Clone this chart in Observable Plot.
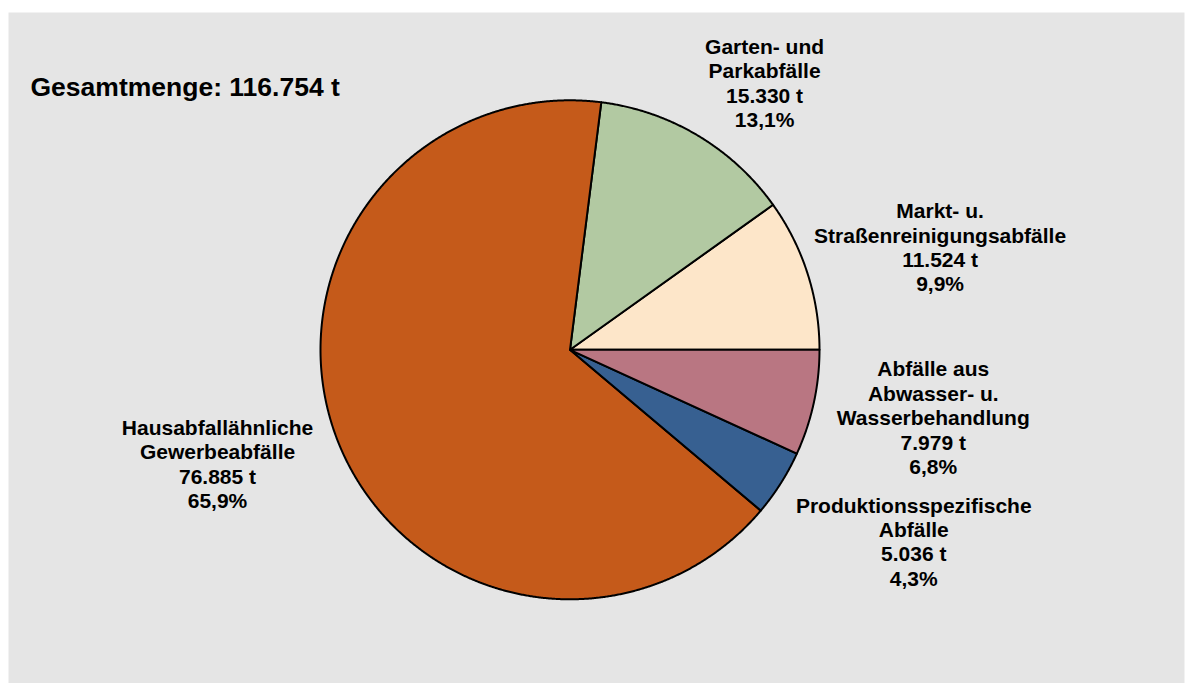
<!DOCTYPE html>
<html><head><meta charset="utf-8">
<script src="https://cdn.jsdelivr.net/npm/d3@7"></script>
<script src="https://cdn.jsdelivr.net/npm/@observablehq/plot@0.6"></script>
<style>body{margin:0;background:#fff;}</style>
</head><body><div id="chart"></div>
<script>
// ---- data (counterclockwise from 3 o'clock) ----
const categories = [
  "Markt- u. Straßenreinigungsabfälle",
  "Garten- und Parkabfälle",
  "Hausabfallähnliche Gewerbeabfälle",
  "Produktionsspezifische Abfälle",
  "Abfälle aus Abwasser- u. Wasserbehandlung"
];
const labelNames = [
  "Markt- u.\nStraßenreinigungsabfälle",
  "Garten- und\nParkabfälle",
  "Hausabfallähnliche\nGewerbeabfälle",
  "Produktionsspezifische\nAbfälle",
  "Abfälle aus\nAbwasser- u.\nWasserbehandlung"
];
const tonnes = [11524, 15330, 76885, 5036, 7979];
const colors = ["#fde6c9", "#b2c9a2", "#c55a1a", "#376091", "#b97682"];

// ---- formatting ----
const total = d3.sum(tonnes);
const de = d3.formatLocale({decimal: ",", thousands: ".", grouping: [3], currency: ["", " €"]});
const fmtInt = de.format(",d");
const fmtPct = de.format(".1f");

// ---- layout ----
const W = 1185, H = 683, R = 249.5, CX = 569.5, CY = 349.3;
const FS = 21, LH = 1.16, PAD = 13;
const FONT = "'Liberation Sans', Arial, Helvetica, sans-serif";
// manual label nudges (px), like hand-dragged labels in the original
const labelNudge = [[-7, 18], [25, 17], [-10, -20], [18, -15], [3, -11]];

let acc = 0;
const slices = tonnes.map((v, i) => {
  const a0 = acc / total * 2 * Math.PI; acc += v;
  const a1 = acc / total * 2 * Math.PI;
  return {name: categories[i], value: v, a0, a1};
});

const polyPoints = slices.flatMap(s => {
  const n = Math.max(2, Math.ceil((s.a1 - s.a0) / (Math.PI / 720)));
  const pts = [{name: s.name, x: 0, y: 0}];
  for (let k = 0; k <= n; k++) {
    const a = s.a0 + (s.a1 - s.a0) * k / n;
    pts.push({name: s.name, x: Math.cos(a), y: Math.sin(a)});
  }
  return pts;
});

const ctx = document.createElement("canvas").getContext("2d");
ctx.font = `bold ${FS}px ${FONT}`;
const labels = slices.map((s, i) => {
  const lines = [...labelNames[i].split("\n"), `${fmtInt(s.value)} t`, `${fmtPct(s.value / total * 100)}%`];
  const w = d3.max(lines, l => ctx.measureText(l).width);
  const hw = w / 2, hh = ((lines.length - 1) * FS * LH + 0.72 * FS) / 2;
  const m = (s.a0 + s.a1) / 2, c = Math.cos(m), sn = Math.sin(m);
  const D = (R + PAD + hw * Math.abs(c) + hh * Math.abs(sn)) / R;
  return {text: lines.join("\n"), x: D * c, y: D * sn};
});

const plot = Plot.plot({
  width: W, height: H, margin: 0,
  x: {domain: [-CX / R, (W - CX) / R], axis: null},
  y: {domain: [-(H - CY) / R, CY / R], axis: null},
  color: {domain: categories, range: colors},
  style: {background: "#fff", fontFamily: FONT},
  marks: [
    Plot.frame({fill: "#e5e5e5", stroke: "none", insetLeft: 8, insetTop: 12, insetRight: 1}),
    Plot.line(polyPoints, {x: "x", y: "y", z: "name", fill: "name", stroke: "#000", strokeWidth: 2, curve: "linear-closed", strokeLinejoin: "round"}),
    ...labels.map((l, i) => Plot.text([l], {x: "x", y: "y", text: "text", dx: labelNudge[i][0], dy: labelNudge[i][1], fontSize: FS, fontWeight: "bold", lineHeight: LH, textAnchor: "middle", lineAnchor: "middle", fill: "#000"})),
    Plot.text([`Gesamtmenge: ${fmtInt(total)} t`], {frameAnchor: "top-left", dx: 30, dy: 77, lineAnchor: "top", textAnchor: "start", fontSize: 26.5, fontWeight: "bold", fill: "#000"})
  ]
});
document.getElementById("chart").append(plot);
</script>
</body></html>
